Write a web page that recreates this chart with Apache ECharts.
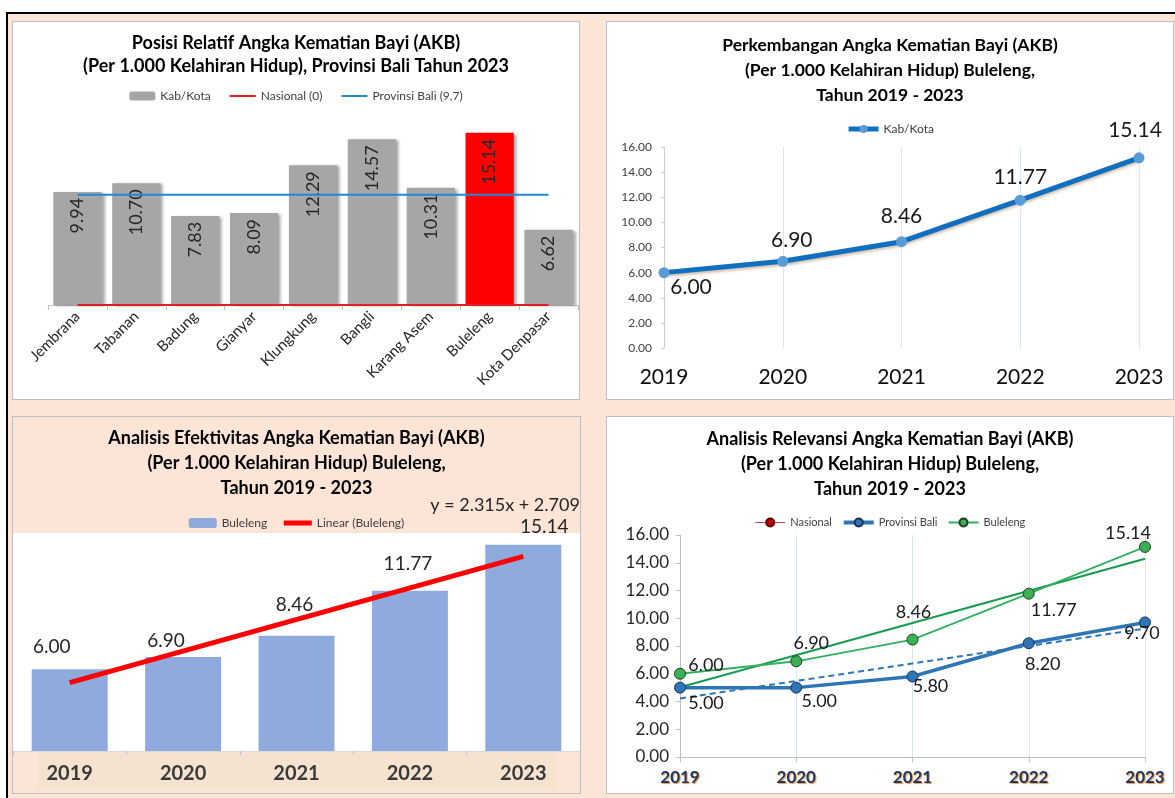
<!DOCTYPE html>
<html>
<head>
<meta charset="utf-8">
<script src="https://cdn.jsdelivr.net/npm/echarts@6/dist/echarts.min.js"></script>
<style>
html,body{margin:0;padding:0;background:#fff;}
#page{position:relative;width:1175px;height:798px;overflow:hidden;background:#fff;}
#bg{position:absolute;left:8px;top:14px;right:0;bottom:0;background:#fce4d6;}
#topline{position:absolute;left:6px;top:12px;width:1169px;height:2px;background:#000;}
#leftline{position:absolute;left:6px;top:12px;width:2px;height:786px;background:#000;}
.box{position:absolute;box-sizing:border-box;border:1px solid #bfbfbf;}
.box .c{position:absolute;left:0;top:0;right:0;bottom:0;}
#b1,#b2,#b4{background:#fff;}
</style>
</head>
<body>
<div id="page">
  <div id="bg"></div>
  <div id="topline"></div>
  <div id="leftline"></div>
  <div class="box" id="b1" style="left:12px;top:21px;width:568px;height:379px;"><div class="c" id="c1"></div></div>
  <div class="box" id="b2" style="left:606px;top:21px;width:568px;height:379px;"><div class="c" id="c2"></div></div>
  <div class="box" id="b3" style="left:12px;top:416px;width:569px;height:378px;"><div class="c" id="c3"></div></div>
  <div class="box" id="b4" style="left:606px;top:416px;width:568px;height:378px;"><div class="c" id="c4"></div></div>
</div>
<script>
// ---------- DATA ----------
// Chart 1: Posisi Relatif AKB 2023
const kabKotaNames = ['Jembrana','Tabanan','Badung','Gianyar','Klungkung','Bangli','Karang Asem','Buleleng','Kota Denpasar'];
const kabKotaAKB = [9.94, 10.70, 7.83, 8.09, 12.29, 14.57, 10.31, 15.14, 6.62];
const nasionalLine = [0, 0, 0, 0, 0, 0, 0, 0, 0];
const provinsiBaliLine = [9.7, 9.7, 9.7, 9.7, 9.7, 9.7, 9.7, 9.7, 9.7];
const highlightKab = 'Buleleng';

// Chart 2/3/4: Buleleng 2019-2023
const years = ['2019', '2020', '2021', '2022', '2023'];
const bulelengAKB = [6.00, 6.90, 8.46, 11.77, 15.14];
const provinsiBaliAKB = [5.00, 5.00, 5.80, 8.20, 9.70];
const nasionalAKB = [null, null, null, null, null];
// Trend lines (end points)
const bulelengTrend = [5.024, null, null, null, 14.284];
const provinsiBaliTrend = [4.22, null, null, null, 9.26];
const trendEquation = 'y = 2.315x + 2.709';

// ---------- STYLE ----------
const FONT = 'Lato, "Liberation Sans", sans-serif';
const titleStyle = {fontFamily: FONT, fontSize: 18, fontWeight: 'bold', color: '#000', lineHeight: 25};
const legendText = {fontFamily: FONT, fontSize: 12, color: '#404040'};
const fmt2 = v => Number(v).toFixed(2);
const noSym = {opacity: 0};

// ---------- CHART 1 ----------
const c1 = echarts.init(document.getElementById('c1'));
c1.setOption({
  animation: false,
  textStyle: {fontFamily: FONT},
  title: {text: 'Posisi Relatif Angka Kematian Bayi (AKB)\n(Per 1.000 Kelahiran Hidup), Provinsi Bali Tahun 2023',
          left: 'center', top: 5, textStyle: Object.assign({}, titleStyle, {lineHeight: 23})},
  legend: {top: 63, left: 'center', itemGap: 18, itemWidth: 26, itemHeight: 9, textStyle: legendText,
           data: ['Kab/Kota',
                  {name: 'Nasional (0)', itemStyle: noSym, lineStyle: {width: 2}},
                  {name: 'Provinsi Bali (9,7)', itemStyle: noSym, lineStyle: {width: 2}}]},
  grid: {left: 35, right: 1, top: 101, bottom: 94, outerBoundsMode: 'none', containLabel: false},
  xAxis: {type: 'category', data: kabKotaNames,
          axisLine: {lineStyle: {color: '#bfbfbf'}},
          axisTick: {show: true, length: 5, lineStyle: {color: '#bfbfbf'}},
          axisLabel: {rotate: 45, fontSize: 15, color: '#262626', margin: 9, interval: 0, fontFamily: FONT}},
  yAxis: {type: 'value', min: 0, max: 16, show: false, splitLine: {show: false}},
  series: [
    {name: 'Kab/Kota', type: 'bar', barCategoryGap: '18%', color: '#a6a6a6',
     data: kabKotaAKB.map((v, i) => kabKotaNames[i] === highlightKab ? {value: v, itemStyle: {color: '#ff0000'}} : v),
     itemStyle: {color: '#a6a6a6', shadowColor: 'rgba(0,0,0,0.35)', shadowBlur: 3, shadowOffsetX: 3, shadowOffsetY: 1},
     label: {show: true, position: 'insideTop', rotate: 90, align: 'right', verticalAlign: 'middle', distance: 6,
             fontSize: 18, color: '#262626', fontFamily: FONT, formatter: p => fmt2(p.value)}},
    {name: 'Nasional (0)', type: 'line', data: nasionalLine, symbol: 'none', color: '#e02020',
     lineStyle: {color: '#e02020', width: 2}, z: 5},
    {name: 'Provinsi Bali (9,7)', type: 'line', data: provinsiBaliLine, symbol: 'none', color: '#2088d8',
     lineStyle: {color: '#2088d8', width: 2}, z: 5}
  ]
});

// ---------- CHART 2 ----------
const trOffsets = [[27, 15], [9, -21], [0, -25], [0, -23], [-4, -28]];
const c2 = echarts.init(document.getElementById('c2'));
c2.setOption({
  animation: false,
  textStyle: {fontFamily: FONT},
  title: {text: 'Perkembangan Angka Kematian Bayi (AKB)\n(Per 1.000 Kelahiran Hidup) Buleleng,\nTahun 2019 - 2023',
          left: 'center', top: 6, textStyle: Object.assign({}, titleStyle, {fontSize: 17.5, lineHeight: 25})},
  legend: {top: 96, left: 'center', itemWidth: 30, itemHeight: 10, textStyle: legendText,
           data: [{name: 'Kab/Kota', lineStyle: {width: 5, color: '#1070c0'}}]},
  grid: {left: 57, right: 34, top: 125, bottom: 51, outerBoundsMode: 'none', containLabel: false},
  xAxis: {type: 'category', data: years, boundaryGap: false,
          axisLine: {show: false}, axisTick: {show: false},
          splitLine: {show: true, lineStyle: {color: '#dce6f2', width: 1}},
          axisLabel: {fontSize: 21, color: '#0d0d0d', margin: 19, fontFamily: FONT}},
  yAxis: {type: 'value', min: 0, max: 16, interval: 2,
          axisLine: {show: true, lineStyle: {color: '#d0d0d0'}},
          axisTick: {show: true, length: 3, lineStyle: {color: '#d0d0d0'}},
          splitLine: {show: false},
          axisLabel: {fontSize: 12, color: '#404040', margin: 12, formatter: fmt2, fontFamily: FONT}},
  series: [
    {name: 'Kab/Kota', type: 'line', data: bulelengAKB.map((v, i) => ({value: v, label: {offset: trOffsets[i]}})),
     symbol: 'circle', symbolSize: 11, color: '#5b9bd5',
     itemStyle: {color: '#5b9bd5'},
     lineStyle: {color: '#1070c0', width: 5, shadowColor: 'rgba(120,60,0,0.35)', shadowBlur: 3, shadowOffsetY: 2},
     label: {show: true, position: 'inside', align: 'center', verticalAlign: 'middle', fontSize: 21,
             color: '#1a1a1a', fontFamily: FONT, formatter: p => fmt2(p.value)}}
  ]
});

// ---------- CHART 3 ----------
const blOffsets = [[-18, -13], [-17, -7], [-2, -21], [-2, -17], [21, -8]];
const c3 = echarts.init(document.getElementById('c3'));
c3.setOption({
  animation: false,
  textStyle: {fontFamily: FONT},
  title: {text: 'Analisis Efektivitas Angka Kematian Bayi (AKB)\n(Per 1.000 Kelahiran Hidup) Buleleng,\nTahun 2019 - 2023',
          left: 'center', top: 4, textStyle: titleStyle},
  legend: {top: 95, left: 'center', itemGap: 14, itemWidth: 28, itemHeight: 10, textStyle: legendText,
           data: ['Buleleng', {name: 'Linear (Buleleng)', itemStyle: noSym, lineStyle: {width: 5}}]},
  graphic: [{type: 'rect', left: 25, top: 335, shape: {width: 518, height: 38}, style: {fill: '#f5e2cf'}, z: -10}],
  grid: {left: 0, right: 0, top: 116, bottom: 42, show: true, backgroundColor: '#ffffff', borderWidth: 0,
         outerBoundsMode: 'none', containLabel: false},
  xAxis: {type: 'category', data: years,
          axisLine: {lineStyle: {color: '#d9d9d9'}},
          axisTick: {show: true, length: 4, lineStyle: {color: '#bfbfbf'}},
          axisLabel: {fontSize: 20, fontWeight: 'bold', color: '#3a3a3a', margin: 13, fontFamily: FONT}},
  yAxis: {type: 'value', min: 0, max: 16, show: false, splitLine: {show: false}},
  series: [
    {name: 'Buleleng', type: 'bar', barCategoryGap: '33%', color: '#8faadc',
     data: bulelengAKB.map((v, i) => ({value: v, label: {offset: blOffsets[i]}})),
     itemStyle: {color: '#8faadc'},
     label: {show: true, position: 'top', distance: 0, fontSize: 19, color: '#262626', fontFamily: FONT,
             formatter: p => fmt2(p.value)}},
    {name: 'Linear (Buleleng)', type: 'line', data: bulelengTrend, connectNulls: true, symbol: 'none',
     color: '#ff0000', lineStyle: {color: '#ff0000', width: 5}, z: 5,
     endLabel: {show: true, formatter: trendEquation, fontSize: 18, color: '#262626', fontFamily: FONT,
                offset: [-101, -51]}}
  ]
});

// ---------- CHART 4 ----------
const baliOffsets = [[26, 16], [23, 14], [18, 10], [14, 21], [-3, 11]];
const bulOffsets = [[26, -9], [15, -18], [1, -27], [25, 16], [-17, -14]];
const ptLabel = {show: true, position: 'inside', align: 'center', verticalAlign: 'middle', fontSize: 18,
                 color: '#1a1a1a', fontFamily: FONT, formatter: p => fmt2(p.value)};
const c4 = echarts.init(document.getElementById('c4'));
c4.setOption({
  animation: false,
  textStyle: {fontFamily: FONT},
  title: {text: 'Analisis Relevansi Angka Kematian Bayi (AKB)\n(Per 1.000 Kelahiran Hidup) Buleleng,\nTahun 2019 - 2023',
          left: 'center', top: 5, textStyle: titleStyle},
  legend: {top: 95, left: 'center', itemGap: 10, itemWidth: 30, itemHeight: 10,
           textStyle: Object.assign({}, legendText, {fontSize: 11}),
           data: [{name: 'Nasional', lineStyle: {width: 1}},
                  {name: 'Provinsi Bali', lineStyle: {width: 4}},
                  {name: 'Buleleng', lineStyle: {width: 2}}]},
  grid: {left: 73, right: 28, top: 118, bottom: 36, outerBoundsMode: 'none', containLabel: false},
  xAxis: {type: 'category', data: years, boundaryGap: false,
          axisLine: {show: true, lineStyle: {color: '#bfbfbf'}},
          axisTick: {show: true, length: 5, lineStyle: {color: '#bfbfbf'}},
          splitLine: {show: true, lineStyle: {color: '#dce6f2'}},
          axisLabel: {fontSize: 17, fontWeight: 'bold', color: '#1f3864', margin: 12, fontFamily: FONT,
                      textShadowColor: 'rgba(237,140,49,0.9)', textShadowBlur: 1, textShadowOffsetX: 1, textShadowOffsetY: 1}},
  yAxis: {type: 'value', min: 0, max: 16, interval: 2,
          axisLine: {show: true, lineStyle: {color: '#bfbfbf'}},
          axisTick: {show: true, length: 4, lineStyle: {color: '#bfbfbf'}},
          splitLine: {show: false},
          axisLabel: {fontSize: 17, color: '#262626', margin: 11, formatter: fmt2, fontFamily: FONT}},
  series: [
    {name: 'Nasional', type: 'line', data: nasionalAKB, symbol: 'circle', symbolSize: 8, color: '#c00000',
     itemStyle: {color: '#c00000', borderColor: '#600000', borderWidth: 1},
     lineStyle: {color: '#c0504d', width: 1}},
    {name: 'Provinsi Bali Trend', type: 'line', data: provinsiBaliTrend, connectNulls: true, symbol: 'none',
     lineStyle: {color: '#2e75b6', width: 2, type: [6, 4]}, z: 2},
    {name: 'Buleleng Trend', type: 'line', data: bulelengTrend, connectNulls: true, symbol: 'none',
     lineStyle: {color: '#1a9a50', width: 2.2}, z: 2},
    {name: 'Provinsi Bali', type: 'line', data: provinsiBaliAKB.map((v, i) => ({value: v, label: {offset: baliOffsets[i]}})),
     symbol: 'circle', symbolSize: 11, color: '#2e75b6',
     itemStyle: {color: '#2e75b6', borderColor: '#1f3050', borderWidth: 1},
     lineStyle: {color: '#2e75b6', width: 3.5}, label: ptLabel, z: 4},
    {name: 'Buleleng', type: 'line', data: bulelengAKB.map((v, i) => ({value: v, label: {offset: bulOffsets[i]}})),
     symbol: 'circle', symbolSize: 11, color: '#3cb054',
     itemStyle: {color: '#3cb054', borderColor: '#1f3a20', borderWidth: 1},
     lineStyle: {color: '#30b060', width: 1.8}, label: ptLabel, z: 4}
  ]
});
</script>
</body>
</html>
